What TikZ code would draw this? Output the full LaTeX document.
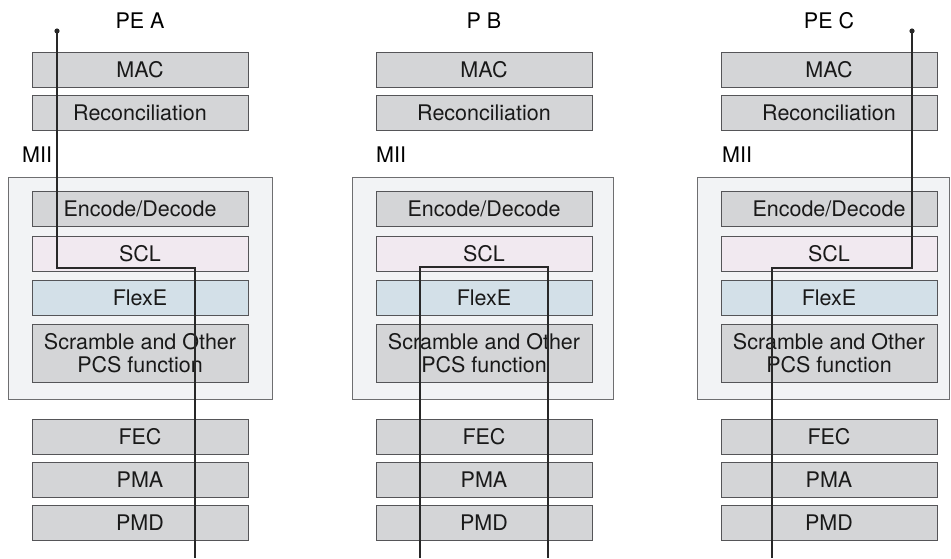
\documentclass[tikz,border=0pt]{standalone}
\usepackage{fontspec}
\setmainfont{TeX Gyre Heros}

\definecolor{layergray}{RGB}{212,213,215}
\definecolor{layeredge}{RGB}{85,85,88}
\definecolor{sclpink}{RGB}{241,233,240}
\definecolor{flexblue}{RGB}{211,224,232}
\definecolor{pcsback}{RGB}{242,243,245}
\definecolor{pcsedge}{RGB}{110,110,112}
\definecolor{wire}{RGB}{40,40,40}

\tikzset{
    layer/.style={draw=layeredge, fill=layergray, line width=0.9pt,
        minimum width=216pt, minimum height=35pt, inner sep=0pt, text=black!90},
    pcsbox/.style={draw=pcsedge, fill=pcsback, line width=0.9pt,
        minimum height=222pt, inner sep=0pt},
    wirepath/.style={draw=wire, line width=1.1pt},
}

\begin{document}
\begin{tikzpicture}[x=1pt, y=-1pt, font=\fontsize{21.5}{23}\selectfont]
    \useasboundingbox (0,0) rectangle (951,558);
    \foreach \c/\cx/\title/\mx/\ox/\ow in {a/140/PE A/22/140/264, b/484/P B/376/482.5/261, c/829/PE C/722/823.25/252.5} {
        \node[pcsbox, minimum width=\ow pt] (\c-pcs) at (\ox,288) {};
        \node (\c-title) at (\cx,21) {\title};
        \node[anchor=west, inner sep=0pt] (\c-mii) at (\mx,155) {MII};
        \node[layer] (\c-mac) at (\cx,69.5) {MAC};
        \node[layer] (\c-rec) at (\cx,112.5) {Reconciliation};
        \node[layer] (\c-enc) at (\cx,208.5) {Encode/Decode};
        \node[layer, fill=sclpink] (\c-scl) at (\cx,253.5) {SCL};
        \node[layer, fill=flexblue] (\c-flex) at (\cx,298) {FlexE};
        \node[layer, minimum height=58pt, align=center] (\c-scr) at (\cx,353)
            {Scramble and Other\\PCS function};
        \node[layer] (\c-fec) at (\cx,437) {FEC};
        \node[layer] (\c-pma) at (\cx,480) {PMA};
        \node[layer] (\c-pmd) at (\cx,523) {PMD};
    }

    % paths through the stacks
    \coordinate (a-in) at (57,31);
    \coordinate (a-turn) at (195,268);
    \coordinate (a-out) at (195,558);
    \coordinate (b-tl) at (420,267);
    \coordinate (b-tr) at (548,267);
    \coordinate (b-left) at (420,558);
    \coordinate (b-right) at (548,558);
    \coordinate (c-in) at (912,31);
    \coordinate (c-turn) at (772,268);
    \coordinate (c-out) at (772,558);

    \draw[wirepath] (a-in) |- (a-turn) -- (a-out);
    \draw[wirepath] (b-left) -- (b-tl) -- (b-tr) -- (b-right);
    \draw[wirepath] (c-in) |- (c-turn) -- (c-out);
    \fill[wire] (a-in) circle (2.6pt) (c-in) circle (2.6pt);
\end{tikzpicture}
\end{document}
